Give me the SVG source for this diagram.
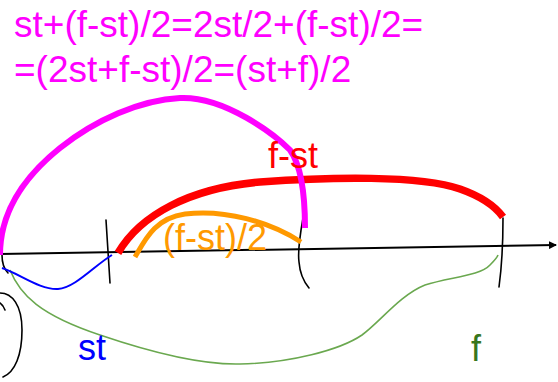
<svg xmlns="http://www.w3.org/2000/svg" width="558" height="382" viewBox="0 0 558 382">
<style>
text{font-family:"Liberation Sans",Arial,sans-serif;font-size:36px}
.k{fill:none;stroke:#000;stroke-width:1.6;stroke-linecap:round}
.t{fill:#ff00ff;font-size:37px}
</style>
<defs>
<marker id="ah" markerWidth="8" markerHeight="8" refX="7" refY="4" orient="auto" markerUnits="userSpaceOnUse">
<path d="M0,0 L8,4 L0,8 Z" fill="#000"/>
</marker>
</defs>
<rect width="558" height="382" fill="#fff"/>
<g id="title">
<text class="t" x="14" y="37">st+(f-st)/2=2st/2+(f-st)/2=</text>
<text class="t" x="14" y="82">=(2st+f-st)/2=(st+f)/2</text>
</g>
<g id="axis">
<path d="M0,254 L556,245" fill="none" stroke="#000" stroke-width="2" marker-end="url(#ah)"/>
<path class="k" d="M106,220 L110,283"/>
<path class="k" d="M303,218 C300,235 298,255 299,262 C300,275 304,282 309,288"/>
<path class="k" d="M503,218 C503,245 502,265 499,287"/>
<path class="k" d="M2,255 C2,262 3,268 8,273"/>
<path class="k" d="M0,293 C12,293 22,305 22,330 C22,355 15,372 3,377"/>
<path class="k" d="M0,303 Q3,305 5,310"/>
</g>
<g id="connectors">
<path id="green" d="M10,270 C20,295 40,315 100,335 C150,352 200,365 240,364 C290,363 340,350 362,335 C380,322 400,295 425,285 C450,277 480,276 490,265 C495,260 497,258 498,255" fill="none" stroke="#6aa84f" stroke-width="1.6"/>
<path id="blue" d="M2,268 C20,274 40,290 58,289 C75,288 95,265 112,255" fill="none" stroke="#0000ff" stroke-width="2"/>
<path id="red" d="M118,253 C140,215 190,188 260,182 C330,177 420,175 460,189 C480,196 495,206 503,217" fill="none" stroke="#ff0000" stroke-width="7.5"/>
<path id="orange" d="M135,257 C145,240 155,218 185,214 C225,209 270,222 301,242" fill="none" stroke="#ff9900" stroke-width="5"/>
<path id="magenta" d="M0,255 C0,215 20,180 60,148 C95,120 140,100 180,98 C225,96 275,135 290,150 C303,168 305,200 305,228" fill="none" stroke="#ff00ff" stroke-width="6"/>
</g>
<g id="labels">
<text x="268" y="168" fill="#ff0000">f-st</text>
<text x="163" y="250" fill="#ff9900">(f-st)/2</text>
<text x="78" y="360" fill="#0000ff">st</text>
<text x="471" y="361" fill="#38761d">f</text>
</g>
</svg>
